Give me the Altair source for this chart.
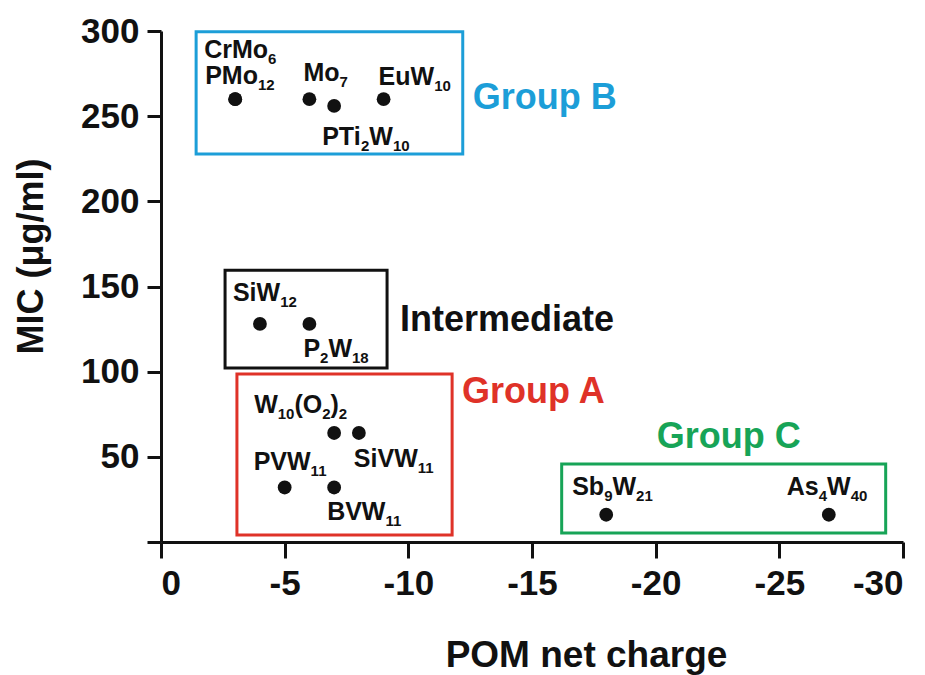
import re
import altair as alt
import pandas as pd

# ---- data ----
# label markup: "_{..}" marks a subscript
names = ["CrMo_{6}", "PMo_{12}", "Mo_{7}", "EuW_{10}", "PTi_{2}W_{10}", "SiW_{12}",
         "P_{2}W_{18}", "W_{10}(O_{2})_{2}", "SiVW_{11}", "PVW_{11}", "BVW_{11}",
         "Sb_{9}W_{21}", "As_{4}W_{40}"]
charge = [-3, -3, -6, -9, -7, -4, -6, -7, -8, -5, -7, -18, -27]
mic = [260, 260, 260, 260, 256, 128, 128, 64, 64, 32, 32, 16, 16]

group_names = ["Group B", "Intermediate", "Group A", "Group C"]
box_x1 = [-1.42, -2.59, -3.07, -16.2]
box_x2 = [-12.2, -9.14, -11.77, -29.3]
box_y1 = [299.5, 159.5, 98.6, 45.8]
box_y2 = [227.8, 102.2, 4.1, 5.3]
group_colors = ["#1c9ed8", "#111111", "#df3228", "#17a457"]

x_ticks = [0, -5, -10, -15, -20, -25, -30]
y_ticks = [0, 50, 100, 150, 200, 250, 300]

pts = pd.DataFrame({"name": names, "charge": charge, "mic": mic})
boxes = pd.DataFrame({"group": group_names, "x1": box_x1, "x2": box_x2,
                      "y1": box_y1, "y2": box_y2, "color": group_colors})

FONT = "Liberation Sans"
INK = "#111111"
BASE_SIZE = 25
SUB_SIZE = 15
SUB_DROP = 6

# Arial/Liberation Sans Bold advance widths (per 1000 em)
ADV = {"C": 722, "r": 389, "M": 833, "o": 611, "O": 778, "P": 667, "E": 667,
       "u": 611, "W": 944, "T": 611, "i": 278, "S": 667, "V": 667, "B": 722,
       "b": 611, "s": 556, "A": 722, "(": 333, ")": 333}


def text_width(s, size):
    return sum(ADV.get(ch, 556) for ch in s) * size / 1000.0


def segments(markup):
    out = []
    for m in re.finditer(r"_\{([^}]*)\}|([^_]+)", markup):
        if m.group(1) is not None:
            out.append((m.group(1), True))
        else:
            out.append((m.group(2), False))
    return out


xscale = alt.Scale(domain=[0, -30], nice=False, zero=False)
yscale = alt.Scale(domain=[0, 300], nice=False)

xaxis = alt.Axis(values=x_ticks, labelExpr="'' + datum.value", grid=False,
                 domainColor=INK, domainWidth=3, tickColor=INK, tickWidth=3,
                 tickSize=16, labelFont=FONT, labelFontWeight="bold",
                 labelFontSize=35, labelColor=INK, labelPadding=8,
                 title="POM net charge", titleFont=FONT, titleFontWeight="bold",
                 titleFontSize=37, titleColor=INK, titleX=425, titleY=124,
                 titleAnchor="middle", titleAlign="center", titleBaseline="alphabetic")
yaxis = alt.Axis(values=y_ticks, labelExpr="datum.value == 0 ? '' : '' + datum.value",
                 grid=False, domainColor=INK, domainWidth=3, tickColor=INK, tickWidth=3,
                 tickSize=14, labelFont=FONT, labelFontWeight="bold",
                 labelFontSize=35, labelColor=INK, labelPadding=8,
                 title="MIC (μg/ml)", titleFont=FONT, titleFontWeight="bold",
                 titleFontSize=36, titleColor=INK, titleAngle=-90,
                 titleX=-119, titleY=225, titleAlign="center", titleBaseline="alphabetic")

base = alt.Chart(pts)

points = base.mark_point(filled=True, shape="circle", size=190, color=INK, opacity=1).encode(
    x=alt.X("charge:Q", scale=xscale, axis=xaxis),
    y=alt.Y("mic:Q", scale=yscale, axis=yaxis),
)

rects = alt.Chart(boxes).mark_rect(filled=False, strokeWidth=3).encode(
    x="x1:Q", x2="x2:Q", y="y1:Q", y2="y2:Q",
    stroke=alt.Color("color:N", scale=None),
)

# per-label offsets (pixels) of the label's left/baseline from its point
offsets = {
    "CrMo_{6}": (-31, -41), "PMo_{12}": (-30, -15), "Mo_{7}": (-6, -18),
    "EuW_{10}": (-5, -14), "PTi_{2}W_{10}": (-12, 39), "SiW_{12}": (-27, -23),
    "P_{2}W_{18}": (-6, 33), "W_{10}(O_{2})_{2}": (-80, -20), "SiVW_{11}": (-5, 34),
    "PVW_{11}": (-31, -17), "BVW_{11}": (-7, 33), "Sb_{9}W_{21}": (-34, -20),
    "As_{4}W_{40}": (-42, -20),
}
labels = []
for n, (dx0, dy0) in offsets.items():
    cursor = 0.0
    for seg, is_sub in segments(n):
        size = SUB_SIZE if is_sub else BASE_SIZE
        labels.append(
            base.transform_filter(alt.datum.name == n)
            .mark_text(align="left", baseline="alphabetic", dx=dx0 + cursor,
                       dy=dy0 + (SUB_DROP if is_sub else 0), font=FONT,
                       fontWeight="bold", fontSize=size, color=INK, text=seg)
            .encode(x="charge:Q", y="mic:Q")
        )
        cursor += text_width(seg, size)

gbase = alt.Chart(boxes).transform_calculate(ymid="(datum.y1 + datum.y2) / 2",
                                             xmid="(datum.x1 + datum.x2) / 2")
glabel_specs = {
    "Group B": dict(x="x2", y="ymid", align="left", dx=10, dy=16),
    "Intermediate": dict(x="x2", y="ymid", align="left", dx=13, dy=12),
    "Group A": dict(x="x2", y="y1", align="left", dx=10, dy=29),
    "Group C": dict(x="xmid", y="y1", align="center", dx=5, dy=-16),
}
glabels = []
for g, s in glabel_specs.items():
    glabels.append(
        gbase.transform_filter(alt.datum.group == g)
        .mark_text(align=s["align"], baseline="alphabetic", dx=s["dx"], dy=s["dy"],
                   font=FONT, fontWeight="bold", fontSize=36)
        .encode(x=f"{s['x']}:Q", y=f"{s['y']}:Q", text="group:N",
                color=alt.Color("color:N", scale=None))
    )

chart = alt.layer(rects, points, *labels, *glabels).properties(
    width=742, height=511,
    autosize=alt.AutoSizeParams(type="none"),
    padding={"left": 153, "top": 23, "right": 14, "bottom": 133},
).configure_view(stroke=None)

chart.save("out.html", embed_options={"renderer": "svg", "actions": False})
